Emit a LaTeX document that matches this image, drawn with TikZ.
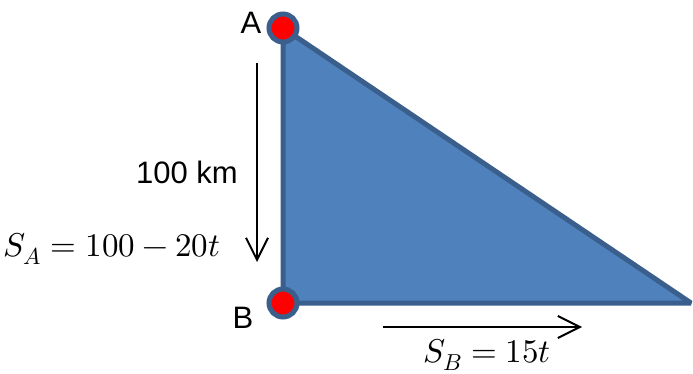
\documentclass[tikz,border=0pt]{standalone}
\usepackage{fontspec}
\usepackage{unicode-math}
\setmainfont{Liberation Sans}
\setmathfont{Latin Modern Math}
\usetikzlibrary{arrows.meta}
\definecolor{triblue}{HTML}{4F81BD}
\definecolor{triedge}{HTML}{3B5F8C}
\tikzset{
  station/.style={fill=red,draw=triedge,line width=5pt},
  biglabel/.style={font=\fontsize{31}{31}\selectfont,inner sep=0pt},
  mathlabel/.style={font=\fontsize{33}{33}\selectfont,inner sep=0pt},
  moveline/.style={line width=2pt,-{Straight Barb[length=22pt,width=22pt]}}
}
\begin{document}
\begin{tikzpicture}[x=1pt,y=-1pt]
\fill[white] (0,0) rectangle (693,374);
\useasboundingbox (0,0) rectangle (693,374);
\coordinate (A) at (283,28);
\coordinate (B) at (283,303);
\coordinate (C) at (691,303);
\draw[fill=triblue,draw=triedge,line width=5pt,line join=bevel] (A) -- (B) -- (C) -- cycle;
\draw[station] (A) circle[radius=14pt];
\draw[station] (B) circle[radius=14pt];
\node[biglabel] (labA) at (251,23) {A};
\node[biglabel] (labB) at (243,318) {B};
% distance from A down to B
\coordinate (kmtop) at (257,63);
\coordinate (kmtip) at (257,262);
\draw[moveline] (kmtop) -- (kmtip);
\node[biglabel] (km) at (187,172) {100 km};
\node[mathlabel] (sA) at (112,249) {$S_A = 100 - 20t$};
% motion of B
\coordinate (bstart) at (383,327);
\coordinate (bend) at (582,327);
\draw[moveline] (bstart) -- (bend);
\node[mathlabel] (sB) at (487,355) {$S_B = 15t$};
\end{tikzpicture}
\end{document}
